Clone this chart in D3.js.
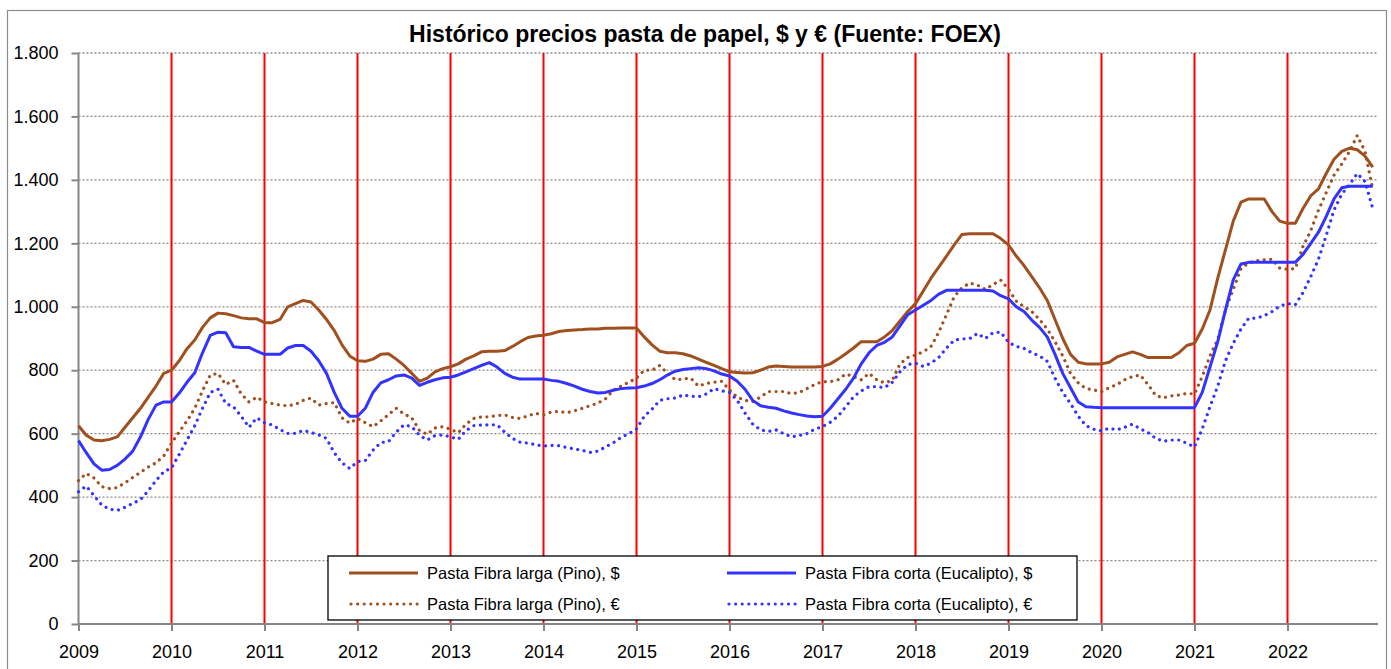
<!DOCTYPE html>
<html><head><meta charset="utf-8">
<script src="https://cdn.jsdelivr.net/npm/d3@7"></script>
<style>
html,body{margin:0;padding:0;background:#fff;}
svg{display:block;font-family:"Liberation Sans",Arial,sans-serif;}
</style></head>
<body><svg id="chart" width="1391" height="669"></svg>
<script>
const startYear = 2009;
const yearTicks = [2009,2010,2011,2012,2013,2014,2015,2016,2017,2018,2019,2020,2021,2022];
const redYears = [2010,2011,2012,2013,2014,2015,2016,2017,2018,2019,2020,2021,2022];
const yTicks = [0,200,400,600,800,1000,1200,1400,1600,1800];
const titleText = "Histórico precios pasta de papel, $ y € (Fuente: FOEX)";
const seriesNames = ["Pasta Fibra larga (Pino), $","Pasta Fibra corta (Eucalipto), $","Pasta Fibra larga (Pino), €","Pasta Fibra corta (Eucalipto), €"];

// monthly values, Jan 2009 .. Dec 2022
const pinoUSD = [
625,595,580,578,582,590,620,650,680,715,750,790,
800,830,868,895,935,965,980,978,972,965,962,962,
950,950,960,1000,1010,1020,1015,990,960,925,880,845,
830,828,835,850,852,835,815,790,765,775,795,805,
811,820,835,845,858,860,860,862,875,890,903,908,
910,915,922,925,927,928,930,930,932,932,933,933,
933,905,880,860,855,855,852,845,835,825,815,805,
795,793,791,792,800,810,813,812,810,810,810,810,
812,820,835,852,870,890,890,890,905,925,955,985,
1010,1050,1090,1125,1160,1195,1228,1230,1230,1230,1230,1215,
1195,1160,1130,1095,1060,1020,960,900,850,825,820,820,
820,825,842,850,858,850,840,840,840,840,855,878,
885,930,990,1090,1180,1270,1330,1340,1340,1340,1300,1270,
1263,1263,1310,1350,1372,1420,1465,1490,1500,1495,1475,1440];
const eucaUSD = [
578,540,505,485,487,500,520,545,590,645,690,700,
700,728,762,792,855,910,920,918,874,872,872,860,
850,850,850,870,878,878,860,830,790,730,680,655,
655,680,730,760,770,782,785,775,752,762,770,776,
778,785,795,805,815,824,810,790,778,772,772,772,
772,768,765,758,750,740,733,728,730,737,742,744,
745,750,758,770,785,797,802,805,808,805,798,788,
782,765,740,705,688,683,680,672,665,660,656,653,
655,680,710,740,775,820,855,878,888,905,940,975,
990,1005,1020,1040,1052,1052,1052,1052,1052,1052,1050,1035,
1025,1000,985,958,935,905,850,790,745,700,685,683,
682,682,682,682,682,682,682,682,682,682,682,682,
682,730,810,890,990,1085,1135,1140,1140,1140,1140,1140,
1140,1140,1165,1200,1235,1285,1340,1375,1380,1380,1380,1380];
const pinoEUR = [
452,475,460,433,427,430,445,462,478,495,508,530,
570,606,640,680,735,785,790,755,768,725,700,715,
700,695,690,688,692,705,712,690,695,698,650,633,
648,635,622,640,660,680,662,650,610,598,618,622,
614,603,630,648,653,653,657,659,651,648,656,664,
659,668,670,666,672,680,688,696,710,737,750,762,
775,800,800,815,790,770,772,775,750,758,762,765,
738,715,705,701,715,733,733,733,726,730,742,755,
764,764,770,788,780,770,790,770,760,768,820,840,
848,858,875,920,975,1032,1060,1075,1068,1055,1070,1084,
1055,1018,1000,985,960,930,890,845,790,760,742,738,
732,745,755,770,780,785,755,720,713,719,722,727,
725,780,845,898,990,1055,1121,1138,1145,1148,1150,1122,
1118,1120,1190,1240,1305,1360,1415,1450,1490,1540,1490,1370];
const eucaEUR = [
417,435,405,375,362,358,368,380,392,420,452,480,
492,535,580,625,680,730,740,695,685,655,620,650,
635,627,613,601,601,610,604,596,585,540,508,490,
512,515,548,572,575,605,628,622,595,580,594,596,
590,582,610,625,627,628,628,605,585,573,570,565,
561,563,562,556,552,547,541,545,558,571,588,600,
615,655,677,705,710,712,722,718,716,725,742,735,
730,705,665,630,612,607,612,600,590,594,600,614,
622,636,655,685,716,735,748,748,745,762,795,818,
822,812,822,840,870,895,898,900,916,900,918,920,
888,875,869,855,845,828,775,730,695,655,625,614,
609,617,612,620,630,615,604,585,576,580,580,570,
558,615,685,750,830,885,930,964,964,972,985,1002,
1010,1006,1045,1095,1150,1225,1305,1355,1385,1420,1395,1310];

const seriesData = [pinoUSD, eucaUSD, pinoEUR, eucaEUR];
const colors = ["#A0501E","#3333FF","#A0501E","#3333FF"];
const dotted = [false,false,true,true];

const svg = d3.select("#chart");
const W = 1391, H = 669;
const m = {left:78.5, right:1380.5, top:53, bottom:624};

const x = d3.scaleLinear().domain([2009, 2023]).range([m.left, m.right]);
const y = d3.scaleLinear().domain([0, 1800]).range([m.bottom, m.top]);

// outer frame
svg.append("rect").attr("x",7.5).attr("y",10.5).attr("width",1379).attr("height",670)
  .attr("fill","#fff").attr("stroke","#8c8c8c").attr("stroke-width",1.2);

// title
const title = svg.append("text").attr("x",705).attr("y",42).attr("text-anchor","middle")
  .attr("font-weight","bold").attr("font-size",20).attr("fill","#000").text(titleText);
const tl = title.node().getComputedTextLength();
title.attr("font-size", 20*592/tl);

// horizontal dotted gridlines
svg.append("g").selectAll("line").data(yTicks.filter(d=>d>0)).join("line")
  .attr("x1",m.left).attr("x2",1378).attr("y1",d=>y(d)).attr("y2",d=>y(d))
  .attr("stroke","#8a8a8a").attr("stroke-width",1.3).attr("stroke-dasharray","2,2");

// red year lines
svg.append("g").selectAll("line").data(redYears).join("line")
  .attr("x1",d=>x(d)).attr("x2",d=>x(d)).attr("y1",m.top).attr("y2",m.bottom)
  .attr("stroke","#FF0000").attr("stroke-width",2);

// axes
const yAxis = d3.axisLeft(y).tickValues(yTicks).tickSize(7).tickPadding(13)
  .tickFormat(d => d3.format(",")(d).replace(/,/g,"."));
const gy = svg.append("g").attr("transform",`translate(${m.left},0)`).call(yAxis);
const xAxis = d3.axisBottom(x).tickValues(yearTicks).tickSize(7).tickPadding(14).tickFormat(d3.format("d"));
const gx = svg.append("g").attr("transform",`translate(0,${m.bottom})`).call(xAxis);
gx.select(".domain").attr("d", `M${m.left},0H1378`);
[gy,gx].forEach(g=>{
  g.select(".domain").attr("stroke","#868686").attr("stroke-width",2);
  g.selectAll(".tick line").attr("stroke","#868686").attr("stroke-width",2);
  g.selectAll(".tick text").attr("font-size",18).attr("fill","#000")
   .attr("font-family","'Liberation Sans',Arial,sans-serif");
});
gy.select(".domain").attr("d", `M0,${m.top}V${m.bottom}`);

// lines
const line = d3.line().x((d,i)=>x(startYear + i/12)).y(d=>y(d));
const order = [2,3,0,1];
order.forEach(k=>{
  const p = svg.append("path").datum(seriesData[k]).attr("d",line)
    .attr("fill","none").attr("stroke",colors[k]).attr("stroke-linejoin","round");
  if (dotted[k]) p.attr("stroke-width",3.2).attr("stroke-dasharray","0.01,6.5").attr("stroke-linecap","round");
  else p.attr("stroke-width",3);
});

// legend
const lg = svg.append("g");
lg.append("rect").attr("x",328).attr("y",556).attr("width",749).attr("height",64)
  .attr("fill","#fff").attr("stroke","#000").attr("stroke-width",1.3);
const legPos = [[349,573],[727,573],[349,604],[727,604]];
seriesNames.forEach((n,k)=>{
  const [lx,ly] = legPos[k];
  const l = lg.append("line").attr("x1",lx).attr("x2",lx+69).attr("y1",ly).attr("y2",ly)
    .attr("stroke",colors[k]);
  if (dotted[k]) l.attr("stroke-width",3.2).attr("stroke-dasharray","0.01,6.6").attr("stroke-linecap","round").attr("x1",lx+2);
  else l.attr("stroke-width",3);
  lg.append("text").attr("x",lx+78).attr("y",ly).attr("dy","0.35em").attr("font-size",16.5)
    .attr("fill","#000").text(n);
});
</script>
</body></html>
